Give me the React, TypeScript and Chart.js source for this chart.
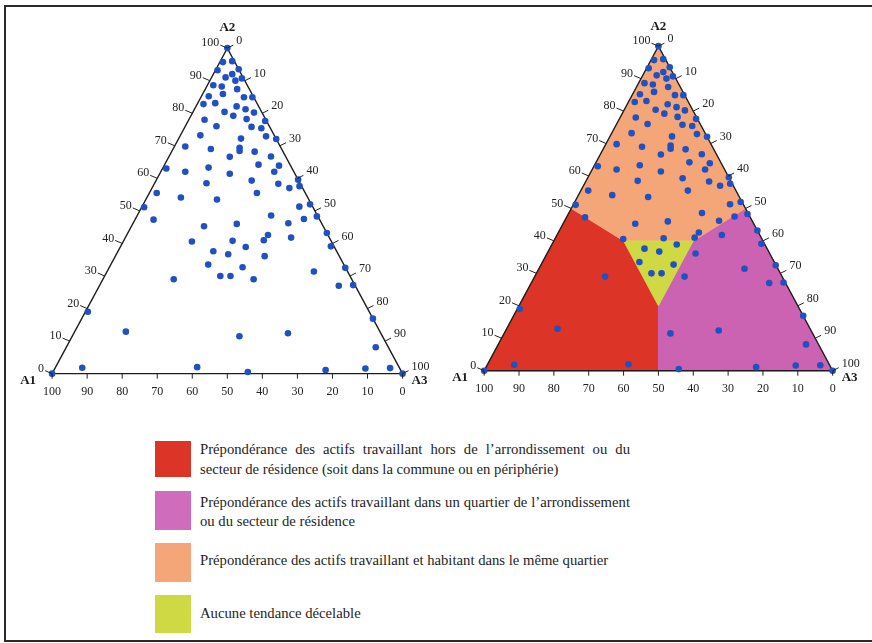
import React, { useEffect, useRef } from "react";
import { Chart, registerables } from "chart.js";

Chart.register(...registerables);

// ---- Data: ternary shares (%) of each commune / quartier -----------------
// A1 share = 100 - A2 - A3
const SHARE_A2 = [
  100, 95.7, 96.0, 93.2, 93.5, 91.0, 92.0, 90.0, 90.7, 88.6,
  88.2, 87.4, 85.2, 85.9, 84.9, 84.9, 82.8, 83.1, 82.1, 81.2,
  80.2, 80.4, 79.2, 78.0, 78.2, 76.0, 75.8, 75.4, 77.6, 73.2,
  72.2, 72.9, 72.1, 69.8, 69.0, 69.4, 68.4, 66.6, 68.2, 66.7,
  64.2, 63.9, 63.0, 63.3, 62.0, 61.4, 62.0, 58.5, 59.3, 58.3,
  57.0, 59.6, 57.6, 55.5, 54.1, 53.5, 55.5, 51.1, 47.3, 51.3,
  52.0, 48.3, 47.5, 48.6, 46.2, 41.8, 46.0, 45.3, 42.6, 41.0,
  40.8, 40.6, 38.9, 37.6, 36.7, 36.1, 43.2, 39.1, 33.5, 32.7,
  30.0, 30.0, 29.0, 29.0, 31.4, 32.5, 27.0, 27.2, 19.0, 16.9,
  8.1, 12.9, 11.5, 12.4, 1.8, 2.0, 0.5, 1.1, 1.6, 1.7,
  0, 0,
];
const SHARE_A3 = [
  0, 0.9, 3.4, 0.6, 6.5, 4.0, 5.4, 7.3, 8.8, 1.7,
  4.3, 9.1, 2.1, 5.8, 12.3, 14.7, 1.8, 5.0, 11.6, 14.6,
  17.5, 9.0, 12.1, 4.5, 16.4, 8.9, 19.0, 22.0, 22.0, 5.7,
  17.8, 24.6, 27.9, 3.1, 10.8, 18.8, 19.3, 17.4, 23.7, 29.1,
  26.8, 32.8, 1.1, 13.0, 7.0, 20.0, 32.4, 14.8, 27.3, 35.4,
  39.2, 40.4, 41.8, 2.1, 9.7, 20.3, 30.7, 0.7, 5.3, 44.9,
  47.6, 51.4, 48.1, 38.2, 44.3, 47.3, 29.7, 20.7, 40.3, 39.9,
  31.1, 19.6, 35.8, 27.2, 31.9, 42.6, 56.8, 60.0, 27.8, 38.0,
  33.0, 35.9, 43.0, 20.2, 59.0, 67.4, 68.3, 72.3, 0.7, 83.1,
  88.3, 14.6, 47.7, 61.1, 7.7, 40.4, 55.6, 77.5, 88.6, 95.6,
  100, 0,
];

const TICK_VALUES = [0, 10, 20, 30, 40, 50, 60, 70, 80, 90, 100];

// Region polygons, vertices as [A1, A2, A3] shares
const REGION_A1 = [[100, 0, 0], [50, 0, 50], [40, 20, 40], [40, 40, 20], [50, 50, 0]];
const REGION_A3 = [[50, 0, 50], [0, 0, 100], [0, 50, 50], [20, 40, 40], [40, 20, 40]];
const REGION_A2 = [[50, 50, 0], [40, 40, 20], [20, 40, 40], [0, 50, 50], [0, 100, 0]];
const REGION_NONE = [[40, 40, 20], [40, 20, 40], [20, 40, 40]];

const COLOR_A1 = "#dc3527";
const COLOR_A3 = "#cb62b2";
const COLOR_A2 = "#f5a679";
const COLOR_NONE = "#cfd944";

const LEGEND_ITEMS = [
  {
    color: COLOR_A1,
    lines: [
      "Prépondérance des actifs travaillant hors de l’arrondissement ou du",
      "secteur de résidence (soit dans la commune ou en périphérie)",
    ],
  },
  {
    color: "#d06cbc",
    lines: [
      "Prépondérance des actifs travaillant dans un quartier de l’arrondissement",
      "ou du secteur de résidence",
    ],
  },
  { color: COLOR_A2, lines: ["Prépondérance des actifs travaillant et habitant dans le même quartier"] },
  { color: COLOR_NONE, lines: ["Aucune tendance décelable"] },
];

const SERIF = "'Liberation Serif', 'Times New Roman', serif";

// ternary -> cartesian (data units)
const toXY = (a2: number, a3: number) => ({ x: a3 + a2 / 2, y: a2 });

type Geo = {
  canvasW: number;
  canvasH: number;
  originX: number;
  baseY: number;
  sideW: number;
  height: number;
  regions: boolean;
};

const ternaryPlugin = {
  id: "ternaryDecor",
  beforeDatasetsDraw(chart: any, _args: any, opts: any) {
    if (!opts.regions) return;
    const xs = chart.scales.x;
    const ys = chart.scales.y;
    const ctx = chart.ctx;
    const polys: [number[][], string][] = [
      [REGION_A1, COLOR_A1],
      [REGION_A3, COLOR_A3],
      [REGION_A2, COLOR_A2],
      [REGION_NONE, COLOR_NONE],
    ];
    ctx.save();
    for (const [poly, col] of polys) {
      ctx.beginPath();
      poly.forEach((v, i) => {
        const p = toXY(v[1], v[2]);
        const px = xs.getPixelForValue(p.x);
        const py = ys.getPixelForValue(p.y);
        if (i === 0) ctx.moveTo(px, py);
        else ctx.lineTo(px, py);
      });
      ctx.closePath();
      ctx.fillStyle = col;
      ctx.fill();
      ctx.strokeStyle = col;
      ctx.lineWidth = 0.8;
      ctx.stroke();
    }
    ctx.restore();
  },
  afterDatasetsDraw(chart: any) {
    const xs = chart.scales.x;
    const ys = chart.scales.y;
    const ctx = chart.ctx;
    const P = (a2: number, a3: number) => {
      const p = toXY(a2, a3);
      return [xs.getPixelForValue(p.x), ys.getPixelForValue(p.y)];
    };
    ctx.save();
    ctx.strokeStyle = "#222";
    ctx.lineWidth = 1;
    ctx.fillStyle = "#222";
    ctx.font = `12px ${SERIF}`;
    for (const v of TICK_VALUES) {
      let [px, py] = P(0, 100 - v);
      ctx.beginPath();
      ctx.moveTo(px, py);
      ctx.lineTo(px, py + 5);
      ctx.stroke();
      ctx.textAlign = "center";
      ctx.textBaseline = "middle";
      ctx.fillText(String(v), px, py + 18);
      [px, py] = P(v, 0);
      ctx.beginPath();
      ctx.moveTo(px, py);
      ctx.lineTo(px - 7, py - 3);
      ctx.stroke();
      ctx.textAlign = "right";
      ctx.fillText(String(v), px - 8, py - 5);
      [px, py] = P(100 - v, v);
      ctx.beginPath();
      ctx.moveTo(px, py);
      ctx.lineTo(px + 6, py - 3);
      ctx.stroke();
      ctx.textAlign = "left";
      ctx.fillText(String(v), px + 9, py - 7);
    }
    ctx.font = `bold 13px ${SERIF}`;
    ctx.fillStyle = "#1a1a1a";
    ctx.textAlign = "center";
    ctx.textBaseline = "middle";
    let [ax, ay] = P(100, 0);
    ctx.fillText("A2", ax, ay - 20);
    [ax, ay] = P(0, 0);
    ctx.fillText("A1", ax - 24, ay + 7);
    [ax, ay] = P(0, 100);
    ctx.fillText("A3", ax + 17, ay + 7);
    ctx.restore();
  },
};

function Ternary({ geo, left }: { geo: Geo; left: number }) {
  const ref = useRef<HTMLCanvasElement | null>(null);
  useEffect(() => {
    if (!ref.current) return;
    const sx = geo.sideW / 100;
    const sy = geo.height / 100;
    const points = SHARE_A2.map((a2, i) => toXY(a2, SHARE_A3[i]));
    const frame = [toXY(0, 0), toXY(0, 100), toXY(100, 0), toXY(0, 0)];
    const chart = new Chart(ref.current, {
      type: "scatter",
      data: {
        datasets: [
          {
            label: "Quartiers",
            data: points,
            pointRadius: 3.3,
            pointBackgroundColor: "#2151c0",
            pointBorderColor: "#2151c0",
            pointBorderWidth: 0,
          },
          {
            label: "Triangle",
            data: frame,
            showLine: true,
            borderColor: "#1e1e1e",
            borderWidth: 1.4,
            pointRadius: 0,
            fill: false,
            tension: 0,
          } as any,
        ],
      },
      options: {
        animation: false,
        responsive: false,
        devicePixelRatio: 1,
        events: [],
        layout: { padding: 0 },
        plugins: {
          legend: { display: false },
          tooltip: { enabled: false },
          ternaryDecor: { regions: geo.regions },
        } as any,
        scales: {
          x: {
            type: "linear",
            display: false,
            min: -geo.originX / sx,
            max: (geo.canvasW - geo.originX) / sx,
          },
          y: {
            type: "linear",
            display: false,
            min: (geo.baseY - geo.canvasH) / sy,
            max: geo.baseY / sy,
          },
        },
      },
      plugins: [ternaryPlugin],
    });
    return () => chart.destroy();
  }, []);
  return (
    <canvas
      ref={ref}
      width={geo.canvasW}
      height={geo.canvasH}
      style={{ position: "absolute", left, top: 0, width: geo.canvasW, height: geo.canvasH }}
    />
  );
}

const LINE_CENTERS = [[449, 469], [502, 521], [560], [613]];
const SWATCH_TOPS = [[441, 36], [491, 39], [543, 39], [595, 38]];

export default function App() {
  const leftGeo: Geo = { canvasW: 436, canvasH: 410, originX: 49, baseY: 377, sideW: 357, height: 332, regions: false };
  const rightGeo: Geo = { canvasW: 436, canvasH: 410, originX: 45, baseY: 374, sideW: 355, height: 331, regions: true };
  return (
    <div
      style={{
        position: "absolute",
        left: 0,
        top: 0,
        width: 872,
        height: 643,
        overflow: "hidden",
        background: "#fff",
        fontFamily: SERIF,
      }}
    >
      <div
        style={{
          position: "absolute",
          left: 4,
          top: 5,
          width: 900,
          height: 637,
          boxSizing: "border-box",
          border: "2px solid #2a2a2a",
        }}
      />
      <Ternary geo={leftGeo} left={0} />
      <Ternary geo={rightGeo} left={436} />
      {LEGEND_ITEMS.map((item, i) => (
        <React.Fragment key={i}>
          <div
            style={{
              position: "absolute",
              left: 155,
              top: SWATCH_TOPS[i][0],
              width: 36,
              height: SWATCH_TOPS[i][1],
              background: item.color,
            }}
          />
          {item.lines.map((ln, j) => (
            <div
              key={j}
              style={{
                position: "absolute",
                left: 200,
                top: LINE_CENTERS[i][j] - 10,
                width: 430,
                height: 20,
                lineHeight: "20px",
                fontSize: 14.7,
                color: "#1e1e1e",
                whiteSpace: "nowrap",
                textAlign: item.lines.length > 1 && j === 0 ? "justify" : "left",
                textAlignLast: item.lines.length > 1 && j === 0 ? "justify" : "auto",
              } as any}
            >
              {ln}
            </div>
          ))}
        </React.Fragment>
      ))}
    </div>
  );
}
